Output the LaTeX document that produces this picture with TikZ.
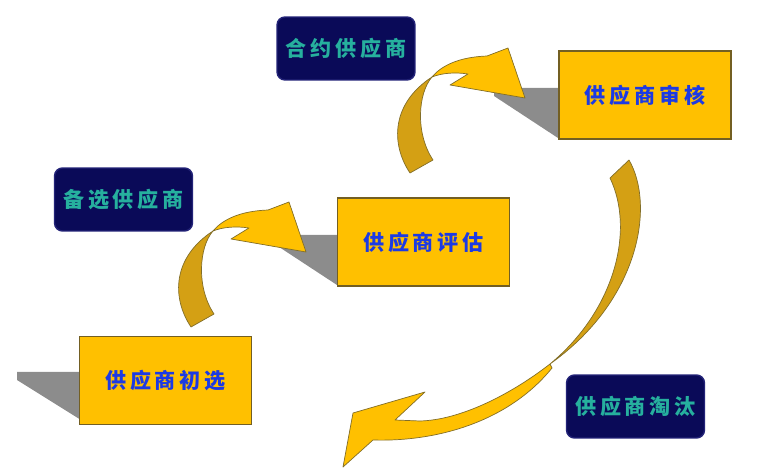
\documentclass[tikz,border=0pt]{standalone}
\usepackage{fontspec}
\newfontfamily\cjk[LetterSpace=18]{Noto Sans CJK SC}
\usetikzlibrary{backgrounds}
\definecolor{boxYellow}{RGB}{255,192,0}
\definecolor{boxEdge}{RGB}{115,95,35}
\definecolor{ribbonDark}{RGB}{212,160,20}
\definecolor{ribbonEdge}{RGB}{130,110,40}
\definecolor{shadowGray}{RGB}{140,140,140}
\definecolor{navyFill}{RGB}{10,10,88}
\definecolor{navyEdge}{RGB}{35,35,120}
\definecolor{stepBlue}{RGB}{28,58,228}
\definecolor{tagTeal}{RGB}{38,176,158}
\newcommand{\pxScale}{0.02cm}
% small bent arrow, origin at the outer foot of the ribbon
\newcommand{\smallBend}[2]{%
  \begin{scope}[shift={(#1,#2)}]
    \filldraw[ribbon, fill=ribbonDark] (0,0) .. controls (-20,-30) and (-18,-70) .. (22,-96)
      .. controls (8,-80) and (5,-40) .. (23,-13) -- cycle;
    \filldraw[ribbon, fill=boxYellow] (22,-96) .. controls (32,-108) and (50,-116) .. (77,-117)
      -- (98,-125) -- (115,-75) -- (40,-88) -- (58,-99)
      .. controls (45,-101) and (32,-100) .. (22,-96) -- cycle;
  \end{scope}}

\begin{document}
\begin{tikzpicture}[x=\pxScale, y=-\pxScale,
  stepbox/.style={draw=boxEdge, line width=0.7pt, fill=boxYellow, minimum width=3.44cm,
    minimum height=1.76cm, font=\cjk\bfseries\fontsize{12}{14}\selectfont, text=stepBlue},
  tagbox/.style={draw=navyEdge, line width=0.8pt, fill=navyFill, rounded corners=0.16cm,
    minimum width=2.76cm, minimum height=1.26cm, font=\cjk\bfseries\fontsize{12}{14}\selectfont, text=tagTeal},
  ribbon/.style={draw=ribbonEdge, line width=0.4pt, line join=round}]
\useasboundingbox (0,0) rectangle (764,469);

\node[stepbox] (audit) at (645,95) {供应商审核};
\node[stepbox] (evaluate) at (423.5,242) {供应商评估};
\node[stepbox] (prescreen) at (165.5,380.5) {供应商初选};

\node[tagbox] (contract) at (346,48.5) {合约供应商};
\node[tagbox] (alternate) at (123.5,199.5) {备选供应商};
\node[tagbox] (eliminate) at (635.5,406.5) {供应商淘汰};

\begin{scope}[on background layer]
%shadows
\fill[shadowGray] (494,88) -- (558,88) -- (558,138) -- (494,96) -- cycle;
\fill[shadowGray] (273,235) -- (337,235) -- (337,285) -- (273,243) -- cycle;
\fill[shadowGray] (17,372) -- (81,372) -- (81,420) -- (17,380) -- cycle;
%small arrows
\smallBend{191}{327}
\smallBend{410}{173}
%big arrow
\filldraw[ribbon, fill=ribbonDark] (610,178) -- (629,160) .. controls (655,205) and (640,300) .. (550,364)
  .. controls (615,310) and (635,230) .. (610,178) -- cycle;
\filldraw[ribbon, fill=boxYellow] (550,364) .. controls (510,395) and (460,420) .. (420,421)
  -- (395,420) -- (425,392) -- (353,413) -- (343,467) -- (373,440)
  .. controls (440,442) and (510,420) .. (552,368) -- cycle;
\end{scope}
\end{tikzpicture}
\end{document}
